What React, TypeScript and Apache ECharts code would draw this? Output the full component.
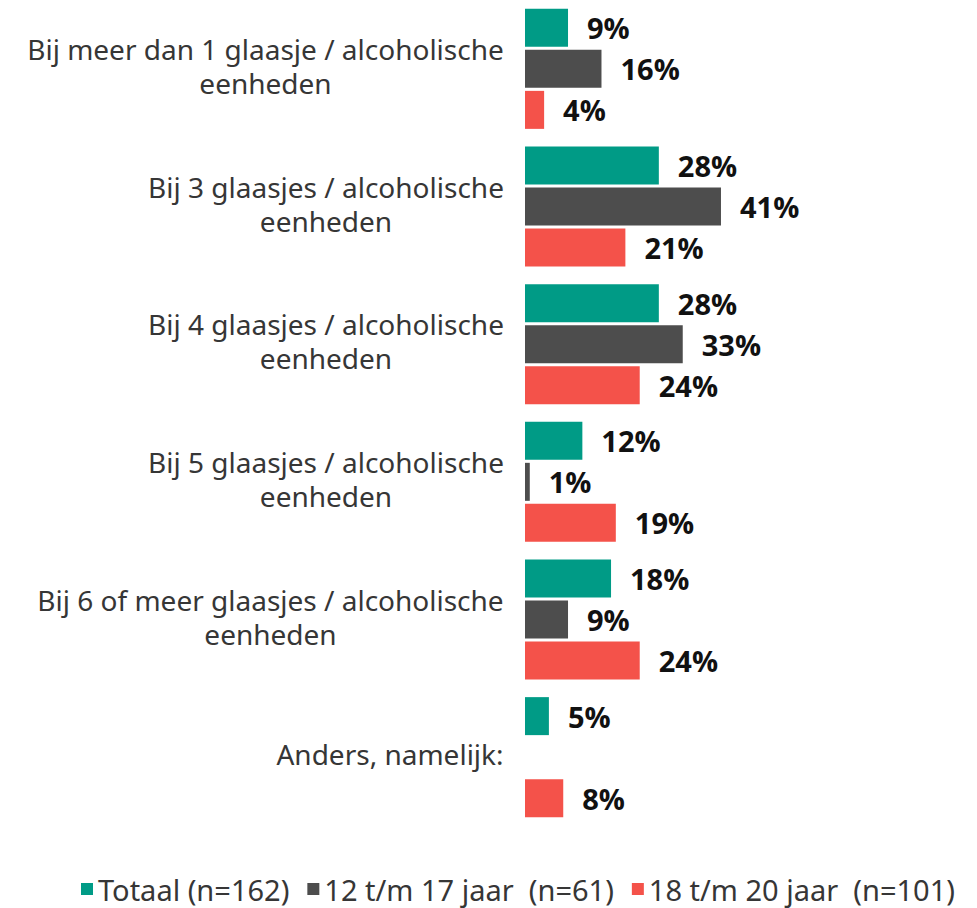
import React, { useEffect, useRef } from "react";
import * as echarts from "echarts";

const categories = [
  "Bij meer dan 1 glaasje / alcoholische eenheden",
  "Bij 3 glaasjes / alcoholische eenheden",
  "Bij 4 glaasjes / alcoholische eenheden",
  "Bij 5 glaasjes / alcoholische eenheden",
  "Bij 6 of meer glaasjes / alcoholische eenheden",
  "Anders, namelijk:",
];
const seriesNames = ["Totaal (n=162)", "12 t/m 17 jaar  (n=61)", "18 t/m 20 jaar  (n=101)"];
const totaal = [9, 28, 28, 12, 18, 5];
const jaar12_17: (number | null)[] = [16, 41, 33, 1, 9, null];
const jaar18_20 = [4, 21, 24, 19, 24, 8];
const colors = ["#009B86", "#4D4D4D", "#F4524A"];

const CAT_FONT = "Noto Sans";
const CAT_SIZE = 28;

function splitLines(v: string): string[] {
  return v.replace(" eenheden", "\neenheden").split("\n");
}

export default function App() {
  const ref = useRef<HTMLDivElement>(null);
  useEffect(() => {
    if (!ref.current) return;
    const chart = echarts.init(ref.current, undefined, { renderer: "svg" });

    const canvas = document.createElement("canvas");
    const ctx = canvas.getContext("2d")!;
    ctx.font = `${CAT_SIZE}px "${CAT_FONT}"`;
    const rich: Record<string, any> = {};
    categories.forEach((c, i) => {
      const lines = splitLines(c);
      const w = Math.ceil(Math.max(...lines.map((l) => ctx.measureText(l).width))) + 2;
      rich["r" + i] = {
        width: w,
        align: "center",
        fontFamily: CAT_FONT,
        fontSize: CAT_SIZE,
        lineHeight: 34,
        color: "#363636",
      };
    });

    const labelCfg = {
      show: true,
      position: "right" as const,
      distance: 19,
      formatter: (p: any) => `${p.value}%`,
      fontFamily: "Open Sans",
      fontWeight: "bold" as const,
      fontSize: 29,
      color: "#111111",
    };
    const mk = (name: string, data: (number | null)[], color: string) => ({
      name,
      type: "bar" as const,
      data,
      barWidth: 38,
      barGap: "8%",
      itemStyle: { color },
      label: labelCfg,
    });
    chart.setOption({
      animation: false,
      grid: { left: 525, top: -2, width: 239, height: 828, containLabel: false },
      xAxis: {
        type: "value",
        min: 0,
        max: 50,
        show: false,
      },
      yAxis: {
        type: "category",
        data: categories,
        inverse: true,
        axisLine: { show: false },
        axisTick: { show: false },
        axisLabel: {
          margin: 20,
          fontFamily: CAT_FONT,
          fontSize: CAT_SIZE,
          lineHeight: 34,
          color: "#363636",
          align: "right",
          padding: [0, 0, 6, 0],
          rich,
          formatter: (v: string, i: number) =>
            splitLines(v)
              .map((l) => `{r${i}|${l}}`)
              .join("\n"),
        },
      },
      legend: {
        top: 868,
        left: 76,
        itemWidth: 12,
        itemHeight: 12,
        itemGap: 18,
        icon: "rect",
        textStyle: { fontFamily: CAT_FONT, fontSize: 29, lineHeight: 32, color: "#363636" },
        data: seriesNames,
      },
      series: [
        mk(seriesNames[0], totaal, colors[0]),
        mk(seriesNames[1], jaar12_17, colors[1]),
        mk(seriesNames[2], jaar18_20, colors[2]),
      ],
    });
    return () => chart.dispose();
  }, []);
  return (
    <div
      ref={ref}
      style={{ position: "fixed", left: 0, top: 0, width: 977, height: 908, background: "#fff" }}
    />
  );
}
